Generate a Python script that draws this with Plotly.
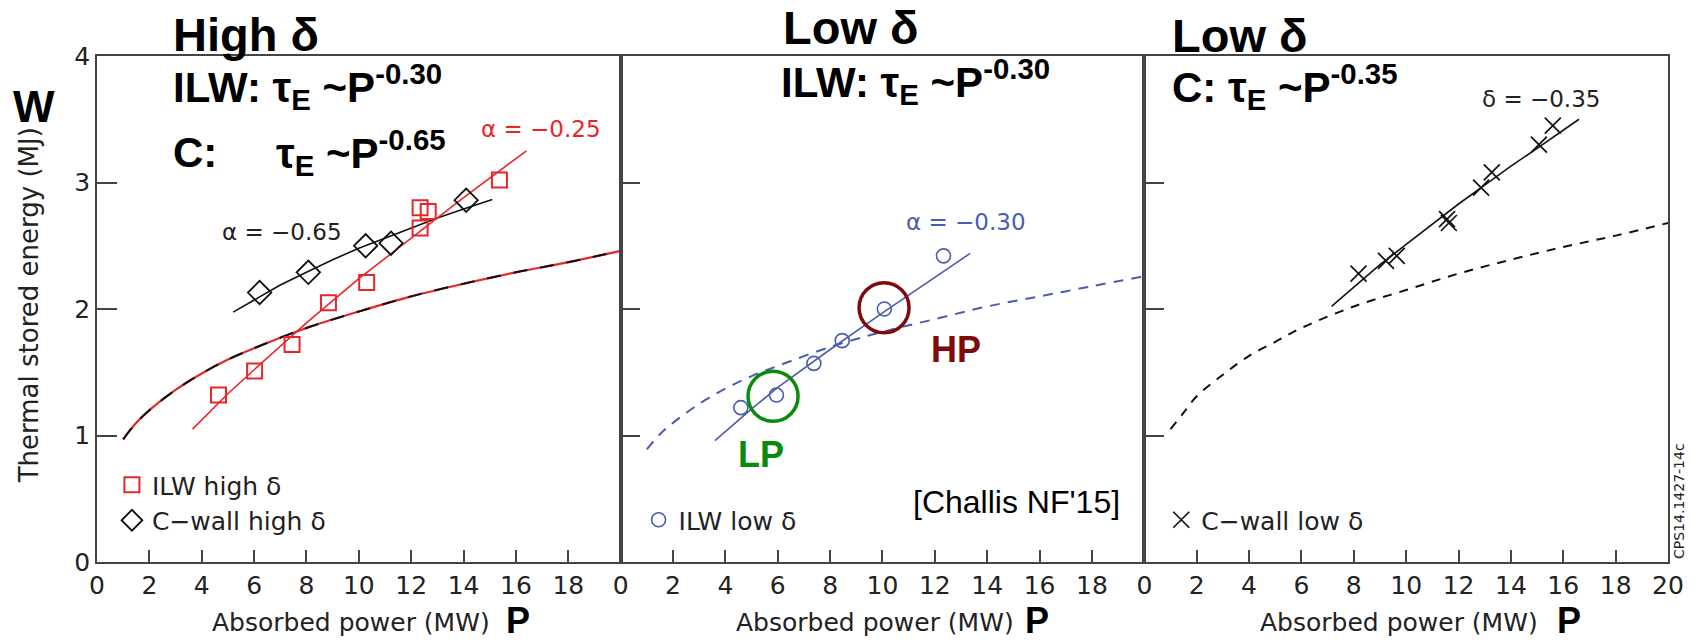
import plotly.graph_objects as go

# ---------------- data ----------------
# High delta panel
P_ilw_high = [4.64, 6.02, 7.45, 8.84, 10.3, 12.34, 12.34, 12.65, 15.37]
W_ilw_high = [1.32, 1.51, 1.72, 2.05, 2.21, 2.64, 2.80, 2.77, 3.02]
P_c_high = [6.21, 8.07, 10.26, 11.23, 14.1]
W_c_high = [2.13, 2.29, 2.50, 2.52, 2.86]
P_ilw_high_fit = [3.65, 5, 6, 8, 10, 12, 14, 16.4]
W_ilw_high_fit = [1.05, 1.33, 1.52, 1.89, 2.24, 2.56, 2.88, 3.25]
P_c_high_fit = [5.2, 6, 7, 8, 9, 10, 11, 12, 13, 14, 15.1]
W_c_high_fit = [1.975, 2.07, 2.19, 2.29, 2.39, 2.48, 2.56, 2.64, 2.72, 2.79, 2.865]

# reference (dashed) curves
P_ref = [1, 1.5, 2, 3, 4, 5, 6, 8, 10, 12, 14, 16, 18, 20]
W_ref_high = [0.97, 1.10, 1.20, 1.36, 1.49, 1.60, 1.69, 1.85, 1.98, 2.10, 2.20, 2.29, 2.37, 2.46]
W_ref_ilw_low = [0.89, 1.01, 1.10, 1.25, 1.37, 1.47, 1.55, 1.70, 1.82, 1.92, 2.02, 2.10, 2.18, 2.26]
W_ref_c_low = [1.05, 1.18, 1.31, 1.48, 1.63, 1.74, 1.85, 2.02, 2.15, 2.28, 2.39, 2.49, 2.58, 2.68]

# Low delta ILW panel
P_ilw_low = [4.59, 5.95, 7.38, 8.46, 10.07, 12.33]
W_ilw_low = [1.22, 1.32, 1.57, 1.75, 2.00, 2.42]
P_ilw_low_fit = [3.6, 5, 6, 8, 10, 12, 13.35]
W_ilw_low_fit = [0.96, 1.21, 1.38, 1.68, 1.97, 2.25, 2.44]
P_lp, W_lp = [5.82], [1.31]
P_hp, W_hp = [10.06], [2.01]

# Low delta C panel
P_c_low = [8.18, 9.23, 9.64, 11.56, 11.63, 12.86, 13.27, 15.07, 15.6]
W_c_low = [2.28, 2.38, 2.42, 2.71, 2.68, 2.96, 3.08, 3.30, 3.45]
P_c_low_fit = [7.15, 8, 9, 10, 11, 12, 13, 14, 15, 16.6]
W_c_low_fit = [2.02, 2.17, 2.35, 2.51, 2.67, 2.83, 2.98, 3.13, 3.27, 3.50]

x_ticks_12 = [0, 2, 4, 6, 8, 10, 12, 14, 16, 18]
x_ticks_3 = [0, 2, 4, 6, 8, 10, 12, 14, 16, 18, 20]
y_ticks = [0, 1, 2, 3, 4]

# ---------------- style ----------------
RED = "#e8262a"
BLUE = "#4a5db0"
BLACK = "#111111"
AX = "#444444"
TXT = "#222222"
FONT = "DejaVu Sans"
BFONT = "Liberation Sans"

fig = go.Figure()

def sc(x, y, xa, ya, **kw):
    fig.add_trace(go.Scatter(x=x, y=y, xaxis=xa, yaxis=ya, **kw))

# Panel 1
sc(P_ref, W_ref_high, "x", "y", mode="lines", line=dict(color=RED, width=2.2, shape="spline"), showlegend=False, hoverinfo="skip")
sc(P_ref, W_ref_high, "x", "y", mode="lines", line=dict(color=BLACK, width=2, dash="14px,13px", shape="spline"), showlegend=False, hoverinfo="skip")
sc(P_c_high_fit, W_c_high_fit, "x", "y", mode="lines", line=dict(color=BLACK, width=1.6), showlegend=False)
sc(P_ilw_high_fit, W_ilw_high_fit, "x", "y", mode="lines", line=dict(color=RED, width=1.6), showlegend=False)
sc(P_ilw_high, W_ilw_high, "x", "y", mode="markers", name="ILW high δ", legend="legend", legendrank=1,
   marker=dict(symbol="square-open", size=15, color=RED, line=dict(width=2, color=RED)))
sc(P_c_high, W_c_high, "x", "y", mode="markers", name="C\u2212wall high δ", legend="legend", legendrank=2,
   marker=dict(symbol="diamond-open", size=18, color=BLACK, line=dict(width=1.8, color=BLACK)))

# Panel 2
sc(P_ref, W_ref_ilw_low, "x2", "y2", mode="lines", line=dict(color=BLUE, width=2, dash="10px,8px", shape="spline"), showlegend=False)
sc(P_ilw_low_fit, W_ilw_low_fit, "x2", "y2", mode="lines", line=dict(color=BLUE, width=1.6), showlegend=False)
sc(P_ilw_low, W_ilw_low, "x2", "y2", mode="markers", name="ILW low δ", legend="legend2",
   marker=dict(symbol="circle-open", size=14, color=BLUE, line=dict(width=1.6, color=BLUE)))
sc(P_lp, W_lp, "x2", "y2", mode="markers", showlegend=False,
   marker=dict(symbol="circle-open", size=50, color="#0a8a0a", line=dict(width=3.5, color="#0a8a0a")))
sc(P_hp, W_hp, "x2", "y2", mode="markers", showlegend=False,
   marker=dict(symbol="circle-open", size=50, color="#7f0a0a", line=dict(width=3.5, color="#7f0a0a")))

# Panel 3
sc(P_ref, W_ref_c_low, "x3", "y3", mode="lines", line=dict(color=BLACK, width=2, dash="9px,8px", shape="spline"), showlegend=False)
sc(P_c_low_fit, W_c_low_fit, "x3", "y3", mode="lines", line=dict(color=BLACK, width=1.6), showlegend=False)
sc(P_c_low, W_c_low, "x3", "y3", mode="markers", name="C\u2212wall low δ", legend="legend3",
   marker=dict(symbol="x-thin", size=16, color=BLACK, line=dict(width=1.7, color=BLACK)))

# ---------------- axes ----------------
def xax(domain, ticks):
    return dict(domain=domain, range=[0, 20], showline=True, linecolor=AX, linewidth=1.5, mirror=True,
                ticks="inside", ticklen=12, tickwidth=1.5, tickcolor=AX, tickvals=ticks,
                tickfont=dict(family=FONT, size=25, color=TXT), showgrid=False, zeroline=False, fixedrange=True)

def yax(anchor, labels):
    return dict(anchor=anchor, range=[0, 4], showline=True, linecolor=AX, linewidth=1.5, mirror=True,
                ticks="inside", ticklen=20, tickwidth=1.5, tickcolor=AX, tickvals=y_ticks,
                showticklabels=labels, tickfont=dict(family=FONT, size=25, color=TXT),
                showgrid=False, zeroline=False, fixedrange=True)

W_TOT, H_TOT = 1696, 642
L, R, T, B = 97, 21, 56, 80
PW = W_TOT - L - R
PH = H_TOT - T - B

def px(x):
    return (x - L) / PW

def py(y):
    return (H_TOT - B - y) / PH

legend_common = dict(font=dict(family=FONT, size=25, color=TXT), bgcolor="rgba(0,0,0,0)",
                     xanchor="left", yanchor="top", itemclick=False, itemdoubleclick=False)

fig.update_layout(
    width=W_TOT, height=H_TOT,
    margin=dict(l=L, r=R, t=T, b=B),
    paper_bgcolor="white", plot_bgcolor="white",
    font=dict(family=FONT, color=TXT),
    xaxis=xax([0, 1/3], x_ticks_12),
    xaxis2=xax([1/3, 2/3], x_ticks_12),
    xaxis3=xax([2/3, 1], x_ticks_3),
    yaxis=yax("x", True),
    yaxis2=yax("x2", False),
    yaxis3=yax("x3", False),
    legend=dict(x=px(112), y=py(462), **legend_common),
    legend2=dict(x=px(641), y=py(497), **legend_common),
    legend3=dict(x=px(1166), y=py(497), **legend_common),
)

ann = []
def A(text, x, y, xref="paper", yref="paper", size=25, color=TXT, xanchor="center", yanchor="middle", bold=False,
      family=FONT, angle=0):
    ann.append(dict(text=("<b>%s</b>" % text) if bold else text, x=x, y=y, xref=xref, yref=yref,
                    showarrow=False, xanchor=xanchor, yanchor=yanchor, textangle=angle,
                    font=dict(family=family, size=size, color=color)))

# titles
HS = 47   # "High δ" / "Low δ"
TS = 42   # scaling lines
A("High δ", px(171), py(34), size=HS, color="black", xanchor="left", bold=True, family=BFONT)
A("ILW: τ<sub>E</sub> ~P<sup>-0.30</sup>", px(171), py(87), size=TS, color="black", xanchor="left", bold=True, family=BFONT)
A("C:", px(171), py(152), size=TS, color="black", xanchor="left", bold=True, family=BFONT)
A("τ<sub>E</sub> ~P<sup>-0.65</sup>", px(275), py(152), size=TS, color="black", xanchor="left", bold=True, family=BFONT)
A("Low δ", px(784), py(27), size=HS, color="black", xanchor="left", bold=True, family=BFONT)
A("ILW: τ<sub>E</sub> ~P<sup>-0.30</sup>", px(782), py(81), size=TS, color="black", xanchor="left", bold=True, family=BFONT)
A("Low δ", px(1175), py(35), size=HS, color="black", xanchor="left", bold=True, family=BFONT)
A("C: τ<sub>E</sub> ~P<sup>-0.35</sup>", px(1175), py(86), size=TS, color="black", xanchor="left", bold=True, family=BFONT)

# axis titles
A("W", px(34), py(107), size=44, color="black", bold=True, family=BFONT)
A("Thermal stored energy (MJ)", px(29), py(305), size=26, angle=-90)
for cx, pcx in [(352, 520), (878, 1041), (1405, 1576)]:
    A("Absorbed power (MW)", px(cx), py(622), size=25)
    A("P", px(pcx), py(620), size=36, color="black", bold=True, family=BFONT)

# in-plot labels
A("α = \u22120.65", 7.07, 2.61, xref="x", yref="y", size=23, color=TXT)
A("α = \u22120.25", 16.95, 3.42, xref="x", yref="y", size=23, color=RED)
A("α = \u22120.30", 13.2, 2.69, xref="x2", yref="y2", size=23, color=BLUE)
A("δ = \u22120.35", 15.16, 3.66, xref="x3", yref="y3", size=23, color=TXT)
A("HP", 12.8, 1.68, xref="x2", yref="y2", size=36, color="#7f0a0a", bold=True, family=BFONT)
A("LP", 5.37, 0.85, xref="x2", yref="y2", size=36, color="#0a8a0a", bold=True, family=BFONT)
A("[Challis NF'15]", px(1021), py(502), size=32, color="black", family=BFONT)
A("CPS14.1427-14c", px(1686), py(501), size=14, angle=-90)

fig.update_layout(annotations=ann)
fig.write_html("out.html")
